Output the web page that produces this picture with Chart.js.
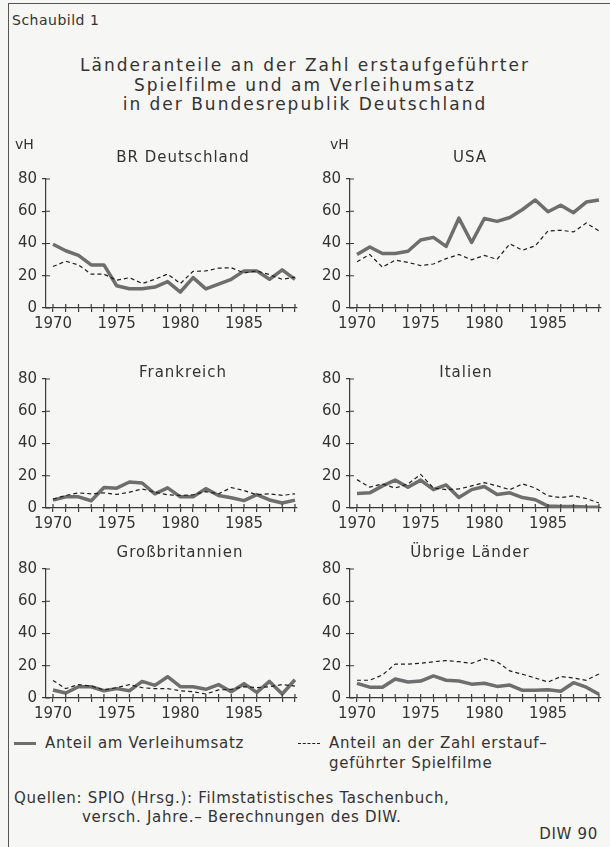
<!DOCTYPE html>
<html>
<head>
<meta charset="utf-8">
<script src="https://cdn.jsdelivr.net/npm/chart.js@4/dist/chart.umd.min.js"></script>
<style>
  body { margin: 0; background: #f6f6f4; font-family: "DejaVu Sans", sans-serif; color: #333; }
  #page { position: relative; width: 610px; height: 847px; overflow: hidden; }
  #frame { position: absolute; left: 8px; top: 3px; width: 610px; height: 850px; border-left: 1px solid #555; border-top: 1px solid #555; }
  .t { position: absolute; white-space: nowrap; }
  .c { transform: translate(-50%, -50%); }
  .l { transform: translate(0, -50%); }
  canvas { position: absolute; }
  .sw { display: inline-block; width: 22px; vertical-align: middle; margin-right: 9px; }
</style>
</head>
<body>
<div id="page">
  <div id="frame"></div>
  <div class="t l" style="left:12px;top:20px;font-size:14px;letter-spacing:0.5px;">Schaubild 1</div>
  <div class="t c" style="left:305px;top:65px;font-size:17px;letter-spacing:2px;">Länderanteile an der Zahl erstaufgeführter</div>
  <div class="t c" style="left:305px;top:85px;font-size:17px;letter-spacing:2px;">Spielfilme und am Verleihumsatz</div>
  <div class="t c" style="left:305px;top:104px;font-size:17px;letter-spacing:2px;">in der Bundesrepublik Deutschland</div>
</div>

<script>
// Jahre
const years = [1970, 1971, 1972, 1973, 1974, 1975, 1976, 1977, 1978, 1979,
               1980, 1981, 1982, 1983, 1984, 1985, 1986, 1987, 1988, 1989]
const yTicks = [0, 20, 40, 60, 80]
const xLabels = [1970, 1975, 1980, 1985]

// Anteil am Verleihumsatz (vH)
const deUmsatz = [39.5, 35.5, 32.6, 26.7, 26.7, 13.8, 11.9, 11.9, 13, 16.4, 9.9, 18.8, 11.9, 14.8, 17.8, 23, 23, 17.8, 23.7, 17.8]
const usaUmsatz = [33.2, 37.8, 33.8, 33.8, 35.2, 42.2, 43.8, 38.2, 55.7, 40.6, 55.5, 53.7, 56.1, 61.1, 67, 59.7, 63.7, 59.1, 65.7, 67]
const frUmsatz = [4.9, 6.9, 6.9, 4.5, 12.7, 12.3, 16.1, 15.5, 8.8, 12.5, 6.9, 6.9, 12, 7.8, 6.4, 4.6, 8.3, 5, 3.1, 4.9]
const itUmsatz = [9, 9.4, 13.7, 17.3, 12.9, 17.3, 11.4, 14.3, 6.5, 11.4, 13.3, 8.4, 9.4, 6.5, 5.1, 1.2, 1, 1, 0.6, 0.4]
const gbUmsatz = [5, 3.1, 7, 7, 4.5, 5.8, 4.5, 10.3, 7.8, 13.2, 7, 7, 5.4, 8.3, 3.9, 8.9, 3.5, 10.3, 2.5, 11.3]
const otherUmsatz = [9.1, 6.7, 6.7, 11.8, 9.9, 10.5, 13.7, 11, 10.5, 8.6, 9.1, 7.2, 8, 4.8, 4.8, 5.1, 4.2, 9.5, 6.7, 2.3]

// Anteil an der Zahl erstaufgefuehrter Spielfilme (vH)
const deFilme = [25.7, 29, 26.7, 21, 21, 17.2, 18.8, 15.2, 17.8, 21, 15.2, 22.7, 23, 24.7, 25, 21.7, 23, 20.7, 17.8, 19.2]
const usaFilme = [28.7, 33.2, 25.3, 29.7, 28.3, 26.3, 27.3, 30.6, 33.2, 29.9, 32.6, 30.2, 39.8, 35.8, 38.6, 47.8, 48.2, 47.2, 52.7, 47.8]
const frFilme = [5.5, 7.8, 9.4, 8.8, 9.4, 8.4, 9.8, 11.8, 9.8, 8.2, 7.8, 8.2, 10.2, 8.8, 12.7, 10.8, 8.2, 8.8, 7.8, 8.8]
const itFilme = [17.6, 12.9, 14.9, 12.4, 14.9, 20.8, 12.4, 11.4, 11.8, 13.7, 15.7, 13.7, 11.4, 14.9, 12.4, 7.5, 6.5, 7.5, 5.9, 3.1]
const gbFilme = [10.9, 5.8, 8.3, 7.4, 5, 6.4, 8.3, 6.4, 5.8, 5.8, 4.5, 3.9, 2.5, 5, 5.4, 7, 6.4, 7, 8.3, 7.4]
const otherFilme = [11, 11, 14.3, 21, 21, 21.5, 22.5, 23.2, 22.5, 21.5, 24.4, 22.5, 16.8, 14.7, 12.4, 9.9, 13.3, 12.4, 11, 14.9]

const panels = [
  { name: "BR Deutschland", umsatz: deUmsatz, filme: deFilme, left: 12, top: 165, tx: 183, ty: 157, vh: 15 },
  { name: "USA", umsatz: usaUmsatz, filme: usaFilme, left: 316, top: 165, tx: 470, ty: 157, vh: 330 },
  { name: "Frankreich", umsatz: frUmsatz, filme: frFilme, left: 12, top: 365, tx: 183, ty: 372 },
  { name: "Italien", umsatz: itUmsatz, filme: itFilme, left: 316, top: 365, tx: 466, ty: 372 },
  { name: "Großbritannien", umsatz: gbUmsatz, filme: gbFilme, left: 12, top: 555, tx: 180, ty: 552 },
  { name: "Übrige Länder", umsatz: otherUmsatz, filme: otherFilme, left: 316, top: 555, tx: 470, ty: 552 },
]

const ink = "#3a3a3a"
const font = { family: "DejaVu Sans", size: 15 }

// tick marks crossing the axis (inner half)
const crossTicks = {
  id: "crossTicks",
  afterDraw(chart) {
    const ctx = chart.ctx
    const xs = chart.scales.x
    const ys = chart.scales.y
    ctx.save()
    ctx.strokeStyle = ink
    ctx.lineWidth = 1.2
    ctx.beginPath()
    xs.ticks.forEach((t, i) => {
      const px = xs.getPixelForTick(i)
      ctx.moveTo(px, xs.top)
      ctx.lineTo(px, xs.top - 4)
    })
    ys.ticks.forEach((t, i) => {
      const py = ys.getPixelForTick(i)
      ctx.moveTo(ys.right, py)
      ctx.lineTo(ys.right + 4, py)
    })
    ctx.stroke()
    ctx.restore()
  },
}

function addText(txt, x, y, cls, style) {
  const d = document.createElement("div")
  d.className = "t " + cls
  d.style.cssText = `left:${x}px;top:${y}px;` + (style || "")
  d.textContent = txt
  document.getElementById("page").appendChild(d)
  return d
}

panels.forEach((p) => {
  const cv = document.createElement("canvas")
  cv.width = 292
  cv.height = 169
  cv.style.left = p.left + "px"
  cv.style.top = p.top + "px"
  document.getElementById("page").appendChild(cv)

  addText(p.name, p.tx, p.ty, "c", "font-size:15px;letter-spacing:1px;")
  if (p.vh) addText("vH", p.vh, 144, "l", "font-size:14px;")

  new Chart(cv, {
    type: "line",
    data: {
      datasets: [
        {
          label: "Anteil am Verleihumsatz",
          data: years.map((y, i) => ({ x: y, y: p.umsatz[i] })),
          borderColor: "#6e6e6e",
          borderWidth: 3.5,
          borderJoinStyle: "round",
          pointRadius: 0,
          order: 1,
        },
        {
          label: "Anteil an der Zahl erstaufgeführter Spielfilme",
          data: years.map((y, i) => ({ x: y, y: p.filme[i] })),
          borderColor: "#1e1e1e",
          borderWidth: 1.2,
          borderDash: [4, 3],
          pointRadius: 0,
          order: 0,
        },
      ],
    },
    options: {
      responsive: false,
      animation: false,
      devicePixelRatio: 1,
      layout: { padding: { top: 8, right: 7, left: 0, bottom: 0 } },
      plugins: { legend: { display: false }, tooltip: { enabled: false } },
      scales: {
        x: {
          type: "linear",
          min: 1969.45,
          max: 1989.16,
          afterFit: (s) => { s.height = 26 },
          border: { color: ink, width: 1.2 },
          grid: { drawOnChartArea: false, tickLength: 4, color: ink, lineWidth: 1.2 },
          ticks: {
            stepSize: 1,
            includeBounds: false,
            autoSkip: false,
            maxRotation: 0,
            padding: 3,
            color: "#333",
            font: font,
            callback: (v) => (xLabels.includes(v) ? String(v) : ""),
          },
        },
        y: {
          min: 0,
          max: 80,
          afterFit: (s) => { s.width = 34 },
          border: { color: ink, width: 1.2 },
          grid: { drawOnChartArea: false, tickLength: 4, color: ink, lineWidth: 1.2 },
          ticks: {
            stepSize: 20,
            padding: 5,
            color: "#333",
            font: font,
            callback: (v) => (yTicks.includes(v) ? String(v) : ""),
          },
        },
      },
    },
    plugins: [crossTicks],
  })
})

// Legende und Quellen
const txtStyle = "font-size:15px;letter-spacing:0.7px;"
const leg1 = addText("Anteil am Verleihumsatz", 14, 743, "l", txtStyle)
leg1.insertAdjacentHTML("afterbegin", '<span class="sw" style="border-top:3px solid #6e6e6e"></span>')
const leg2 = addText("Anteil an der Zahl erstauf–", 298, 743, "l", txtStyle)
leg2.insertAdjacentHTML("afterbegin", '<span class="sw" style="border-top:1.2px dashed #1e1e1e"></span>')
addText("geführter Spielfilme", 329, 763, "l", txtStyle)
addText("Quellen: SPIO (Hrsg.): Filmstatistisches Taschenbuch,", 14, 798, "l", txtStyle)
addText("versch. Jahre.– Berechnungen des DIW.", 82, 817, "l", txtStyle)
addText("DIW 90", 598, 834, "l", txtStyle + "transform:translate(-100%,-50%);")
</script>
</body>
</html>
